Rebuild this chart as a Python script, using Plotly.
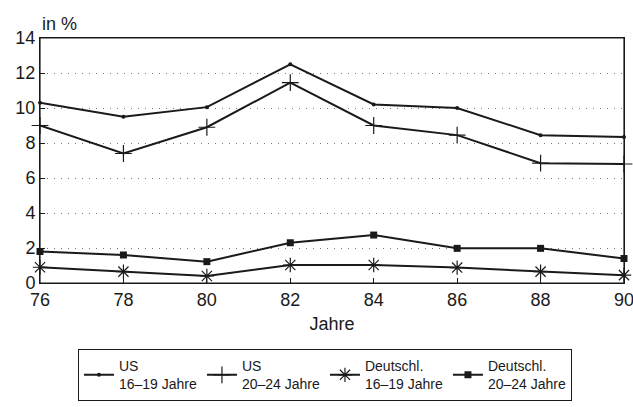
import plotly.graph_objects as go

years = [76, 78, 80, 82, 84, 86, 88, 90]
us_16_19 = [10.3, 9.5, 10.05, 12.5, 10.2, 10.0, 8.45, 8.35]
us_20_24 = [9.0, 7.4, 8.9, 11.45, 9.0, 8.45, 6.85, 6.8]
de_16_19 = [0.9, 0.65, 0.4, 1.03, 1.03, 0.88, 0.65, 0.45]
de_20_24 = [1.8, 1.6, 1.22, 2.3, 2.74, 1.98, 1.98, 1.4]
names = ["US<br>16–19 Jahre", "US<br>20–24 Jahre", "Deutschl.<br>16–19 Jahre", "Deutschl.<br>20–24 Jahre"]
y_ticks = [0, 2, 4, 6, 8, 10, 12, 14]

col = "#1a1a1a"
series = [
    (us_16_19, dict(symbol="circle", size=4, color=col)),
    (us_20_24, dict(symbol="cross-thin", size=12, color=col, line=dict(width=1.2, color=col))),
    (de_16_19, dict(symbol="asterisk", size=12, color=col, line=dict(width=1.2, color=col))),
    (de_20_24, dict(symbol="square", size=7, color=col)),
]

fig = go.Figure()
for (vals, mk), nm in zip(series, names):
    fig.add_trace(go.Scatter(x=years, y=vals, name=nm, mode="lines+markers",
                             line=dict(color=col, width=2), marker=mk, cliponaxis=False))

fig.update_layout(
    width=633, height=407,
    margin=dict(l=40, r=9, t=38, b=124, autoexpand=False),
    paper_bgcolor="white", plot_bgcolor="white",
    font=dict(family="Liberation Sans, Arial, sans-serif", color=col, size=18),
    showlegend=True,
    legend=dict(orientation="h", x=0.065, xanchor="left", y=-0.27, yanchor="top",
                bordercolor=col, borderwidth=1, font=dict(size=14),
                entrywidth=78, itemwidth=30, tracegroupgap=0),
    annotations=[dict(text="in %", x=0, y=1.0, xref="paper", yref="paper",
                      xanchor="left", yanchor="bottom", showarrow=False,
                      font=dict(size=18), yshift=2)],
    shapes=[dict(type="rect", xref="paper", yref="paper", x0=0, x1=1, y0=0, y1=1,
                 line=dict(color=col, width=1.2), layer="above")],
)
fig.update_xaxes(range=[76, 90], tickvals=years, ticks="inside", ticklen=5,
                 tickcolor=col, showline=True, linecolor=col, linewidth=1, mirror=True,
                 showgrid=False, zeroline=False, ticklabeloverflow="allow", automargin=False,
                 title=dict(text="Jahre", font=dict(size=18), standoff=8))
fig.update_yaxes(range=[0, 14], tickvals=y_ticks, ticks="inside", ticklen=5,
                 tickcolor=col, showline=True, linecolor=col, linewidth=1, mirror=True,
                 showgrid=True, gridcolor="#777", griddash="1px,6px", gridwidth=1.3,
                 zeroline=False, ticklabeloverflow="allow", automargin=False)

fig.write_html("out.html", config={"displayModeBar": False},
               post_script="document.body.style.margin='0';document.body.style.overflow='hidden';")
